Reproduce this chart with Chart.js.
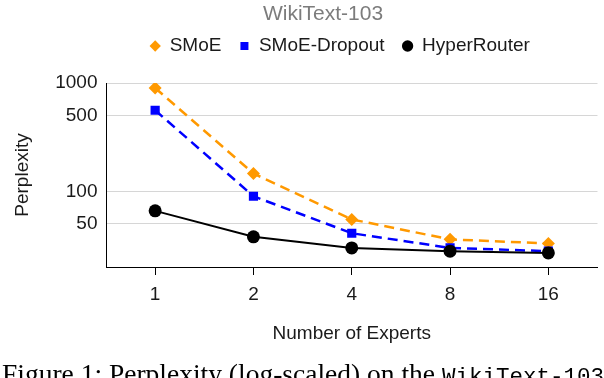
<!DOCTYPE html>
<html>
<head>
<meta charset="utf-8">
<script src="https://cdn.jsdelivr.net/npm/chart.js@4"></script>
<style>
  body { margin: 0; background: #fff; }
  #chart { display: block; }
</style>
</head>
<body>
<canvas id="chart" width="604" height="378"></canvas>
<script>
// values (log-scaled perplexity)
const experts = ['1', '2', '4', '8', '16'];
const smoe = [900, 146, 55, 36, 33];
const smoeDropout = [560, 90, 41, 30, 28];
const hyperRouter = [66, 38, 30, 28, 27];
const yTicks = [50, 100, 500, 1000];

Chart.defaults.font.family = "'Liberation Sans', Arial, sans-serif";
Chart.defaults.color = '#1a1a1a';

// title above the legend and the figure caption under the chart
const extraText = {
    id: 'extraText',
    afterLayout(chart) {
        // legend in the reference sits right of the canvas centre
        const lg = chart.legend;
        const dx = 340 - (lg.left + lg.right) / 2;
        lg.left += dx;
        lg.right += dx;
    },
    afterDraw(chart) {
        const ctx = chart.ctx;
        ctx.save();
        ctx.textBaseline = 'alphabetic';
        ctx.textAlign = 'center';
        ctx.fillStyle = '#7c7c7c';
        ctx.font = "21px 'Liberation Sans', Arial, sans-serif";
        ctx.fillText('WikiText-103', 323, 20);

        ctx.textAlign = 'left';
        ctx.fillStyle = '#000';
        ctx.font = "27.5px 'Liberation Serif', 'Times New Roman', serif";
        const pre = 'Figure 1: Perplexity (log-scaled) on the ';
        ctx.fillText(pre, 2, 383);
        const w = ctx.measureText(pre).width;
        ctx.font = "22.5px 'Liberation Mono', monospace";
        ctx.fillText('WikiText-103', 2 + w, 383);
        ctx.restore();
    }
};

new Chart(document.getElementById('chart'), {
    type: 'line',
    data: {
        labels: experts,
        datasets: [
            {
                label: 'SMoE',
                data: smoe,
                borderColor: '#ff9900',
                backgroundColor: '#ff9900',
                borderWidth: 2.5,
                borderDash: [10, 6],
                pointStyle: 'rectRot',
                pointRadius: 6.5,
                pointBorderWidth: 0,
                order: 2
            },
            {
                label: 'SMoE-Dropout',
                data: smoeDropout,
                borderColor: '#0000ff',
                backgroundColor: '#0000ff',
                borderWidth: 2.5,
                borderDash: [10, 6],
                pointStyle: 'rect',
                pointRadius: 6.5,
                pointBorderWidth: 0,
                order: 1
            },
            {
                label: 'HyperRouter',
                data: hyperRouter,
                borderColor: '#000000',
                backgroundColor: '#000000',
                borderWidth: 2,
                pointStyle: 'circle',
                pointRadius: 6.5,
                pointBorderWidth: 0,
                order: 0
            }
        ]
    },
    options: {
        responsive: false,
        animation: false,
        layout: {
            padding: { top: 18.5, left: 0, right: 5.5, bottom: 0 }
        },
        plugins: {
            tooltip: { enabled: false },
            legend: {
                position: 'top',
                labels: {
                    usePointStyle: true,
                    boxWidth: 10,
                    boxHeight: 8,
                    padding: 18,
                    color: '#1a1a1a',
                    font: { size: 19 },
                    sort: (a, b) => a.datasetIndex - b.datasetIndex,
                    generateLabels(chart) {
                        const items = Chart.defaults.plugins.legend.labels.generateLabels(chart);
                        items.forEach(item => {
                            item.lineDash = [];
                            item.lineWidth = 0;
                        });
                        return items;
                    }
                }
            },
            // empty spacer between legend and plot
            subtitle: {
                display: true,
                text: '',
                weight: 500,
                font: { size: 1, lineHeight: 1 },
                padding: { top: 0, bottom: 16.5 }
            }
        },
        scales: {
            x: {
                offset: true,
                grid: {
                    display: true,
                    drawOnChartArea: false,
                    drawTicks: true,
                    tickLength: 8,
                    color: '#000'
                },
                border: { color: '#000', width: 1 },
                ticks: { font: { size: 19 }, padding: 8.5, maxRotation: 0 },
                title: {
                    display: true,
                    text: 'Number of Experts',
                    font: { size: 19 },
                    padding: { top: 0, bottom: 32.6 }
                },
                afterFit(scale) { scale.height = 111; }
            },
            y: {
                type: 'logarithmic',
                min: 20,
                max: 1000,
                afterBuildTicks(scale) {
                    scale.ticks = yTicks.map(v => ({ value: v }));
                },
                grid: {
                    color: '#d6d6d6',
                    lineWidth: 1,
                    drawTicks: false
                },
                border: { color: '#000', width: 1 },
                ticks: {
                    font: { size: 19 },
                    padding: 8.5,
                    callback: v => String(v)
                },
                title: {
                    display: true,
                    text: 'Perplexity',
                    font: { size: 19 },
                    padding: { top: 11, bottom: 0 }
                },
                afterFit(scale) { scale.width = 106; }
            }
        }
    },
    plugins: [extraText]
});
</script>
</body>
</html>
